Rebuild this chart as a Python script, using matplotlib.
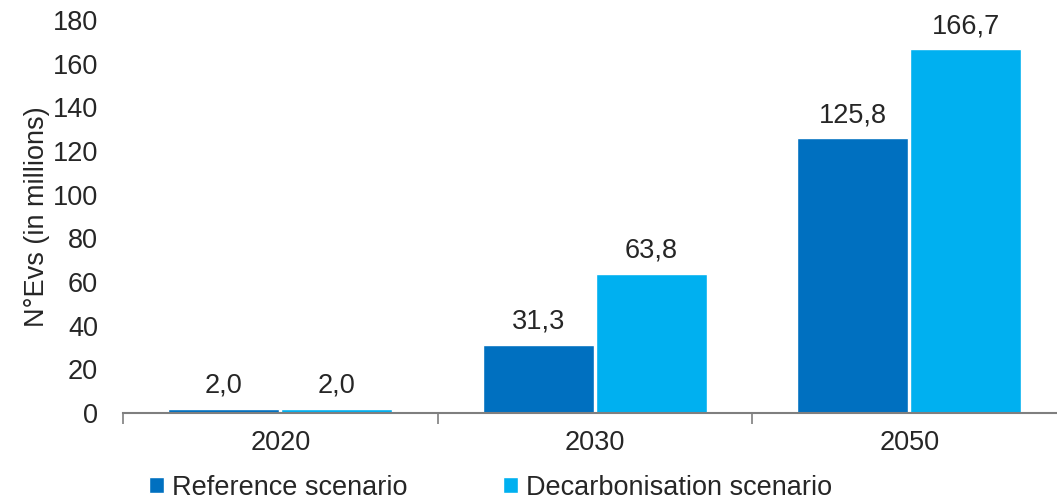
import matplotlib
matplotlib.use("Agg")
import matplotlib.pyplot as plt
import numpy as np

categories = ["2020", "2030", "2050"]
reference = [2.0, 31.3, 125.8]
decarbonisation = [2.0, 63.8, 166.7]
series_names = ["Reference scenario", "Decarbonisation scenario"]
colors = ["#0070C0", "#00B0F0"]

plt.rcParams['font.family'] = ['Liberation Sans', 'DejaVu Sans']

fig = plt.figure(figsize=(10.57, 4.99), dpi=100)
ax = fig.add_axes([123/1057, 86/499, (1057-123)/1057, (413-20)/499])

x = np.arange(len(categories))
w = 0.353
off = 0.18
b1 = ax.bar(x - off, reference, w, color=colors[0], edgecolor="white", linewidth=1, label=series_names[0])
b2 = ax.bar(x + off, decarbonisation, w, color=colors[1], edgecolor="white", linewidth=1, label=series_names[1])

fs = 19.5
for bars, vals in ((b1, reference), (b2, decarbonisation)):
    for r, v in zip(bars, vals):
        ax.annotate(f"{v:.1f}".replace(".", ","), (r.get_x() + r.get_width()/2, v),
                    xytext=(0, 7), textcoords="offset points", ha="center", va="bottom",
                    fontsize=fs, color="#262626")

ax.set_ylim(0, 180)
ax.set_xlim(-0.5, (1057-123)/314.5 - 0.5)
ax.set_yticks(np.arange(0, 181, 20))
ax.tick_params(axis="y", length=0, labelsize=fs, labelcolor="#262626", pad=18)
ax.set_xticks(x)
ax.set_xticklabels(categories)
ax.tick_params(axis="x", length=0, labelsize=fs, labelcolor="#262626", pad=12)
ax.set_xticks([-0.5, 0.5, 1.5], minor=True)
ax.tick_params(axis="x", which="minor", length=8, color="#7f7f7f", width=1.2)
for s in ["top", "right", "left"]:
    ax.spines[s].set_visible(False)
ax.spines["bottom"].set_color("#7f7f7f")
ax.spines["bottom"].set_linewidth(1.5)
ax.set_ylabel("N°Evs (in millions)", fontsize=fs, color="#262626", labelpad=2)

leg = fig.legend(handles=[b1, b2], labels=series_names, loc="lower left",
                 bbox_to_anchor=(125/1057, -0.052), ncol=2, frameon=False, fontsize=fs,
                 handlelength=0.55, handleheight=0.55, handletextpad=0.3, columnspacing=3.5,
                 labelcolor="#262626")

fig.savefig("out.png", dpi=100)
